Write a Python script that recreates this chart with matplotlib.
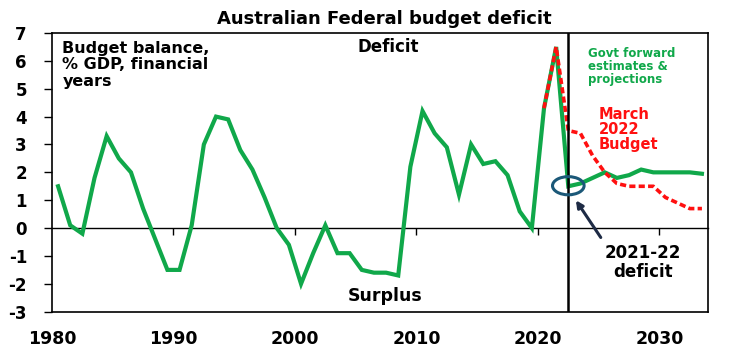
import matplotlib
matplotlib.use("Agg")
import matplotlib.pyplot as plt
from matplotlib.patches import Ellipse
import numpy as np

plt.rcParams['font.family'] = ['DejaVu Sans']
plt.rcParams['font.weight'] = 'bold'
plt.rcParams['axes.unicode_minus'] = False

# Financial years (year ending)
years = list(range(1980, 2034))
balance = [1.5, 0.1, -0.2, 1.8, 3.3, 2.5, 2.0, 0.7, -0.4, -1.5,
           -1.5, 0.1, 3.0, 4.0, 3.9, 2.8, 2.1, 1.1, 0.0, -0.6,
           -2.0, -0.9, 0.1, -0.9, -0.9, -1.5, -1.6, -1.6, -1.7, 2.2,
           4.2, 3.4, 2.9, 1.2, 3.0, 2.3, 2.4, 1.9, 0.6, 0.0,
           4.3, 6.5, 1.5, 1.6, 1.8, 2.0, 1.8, 1.9, 2.1, 2.0,
           2.0, 2.0, 2.0, 1.95]
march_years = list(range(2020, 2034))
march_budget = [4.3, 6.5, 3.5, 3.4, 2.6, 2.0, 1.6, 1.5, 1.5, 1.5, 1.1, 0.9, 0.7, 0.7]
xtick_years = [1980, 1990, 2000, 2010, 2020, 2030]
yticks = [-3, -2, -1, 0, 1, 2, 3, 4, 5, 6, 7]

GREEN = '#10a84a'
RED = '#ff1010'

fig = plt.figure(figsize=(7.31, 3.54), dpi=100)
ax = fig.add_axes([52/731, 1-311.7/354, (708-52)/731, (311.7-33)/354])

# plot at mid-point of financial year
x_main = np.array(years) + 0.5
x_march = np.array(march_years) + 0.5
ax.plot(x_main, balance, color=GREEN, lw=3.0, solid_joinstyle='miter', zorder=3)
ax.plot(x_march, march_budget, color=RED, lw=2.6, dashes=(1.7, 0.9), zorder=4)

ax.set_xlim(1980, 2034)
ax.set_ylim(-3, 7)
ax.set_yticks(yticks)
ax.set_yticklabels([str(v) for v in yticks])
ax.set_xticks(xtick_years)
ax.set_xticklabels([str(v) for v in xtick_years])
ax.tick_params(axis='x', length=0, pad=13, labelsize=12.5)
ax.tick_params(axis='y', length=6, width=1, pad=12, labelsize=12, direction='out')
for sp in ax.spines.values():
    sp.set_linewidth(1.2)
    sp.set_color('black')

# zero line with tick marks
sec = ax.secondary_xaxis(0.3)
sec.set_xticks(xtick_years[1:])
sec.set_xticklabels([])
sec.tick_params(axis='x', length=5, width=1, direction='out')
sec.spines['bottom'].set_linewidth(1.0)

ax.axvline(2022.5, color='black', lw=1.8, zorder=5)

ax.add_patch(Ellipse((2022.5, 1.52), 2.6, 0.65, fill=False,
                     edgecolor='#1b5878', lw=2.2, zorder=6))
ax.annotate('', xy=(2023.0, 1.08), xytext=(2025.3, -0.42),
            arrowprops=dict(arrowstyle='-|>', color='#1e2b45', lw=2.2,
                            mutation_scale=10), zorder=6)

fig.text(384/731, 1-19/354, 'Australian Federal budget deficit',
         ha='center', va='center', fontsize=13, fontweight='bold')
ax.text(1980.86, 6.72, 'Budget balance,\n% GDP, financial\nyears',
        ha='left', va='top', fontsize=11.5, fontweight='bold', linespacing=1.12)
ax.text(2007.7, 6.49, 'Deficit', ha='center', va='center', fontsize=12, fontweight='bold')
ax.text(2007.4, -2.43, 'Surplus', ha='center', va='center', fontsize=12.5, fontweight='bold')
ax.text(2024.1, 6.5, 'Govt forward\nestimates &\nprojections', ha='left', va='top',
        fontsize=8.5, fontweight='bold', color=GREEN, linespacing=1.0)
ax.text(2025.0, 4.35, 'March\n2022\nBudget', ha='left', va='top',
        fontsize=10.5, fontweight='bold', color=RED, linespacing=1.0)
ax.text(2028.65, -1.24, '2021-22\ndeficit', ha='center', va='center',
        fontsize=12, fontweight='bold', linespacing=1.1)

fig.savefig('out.png', dpi=100)
